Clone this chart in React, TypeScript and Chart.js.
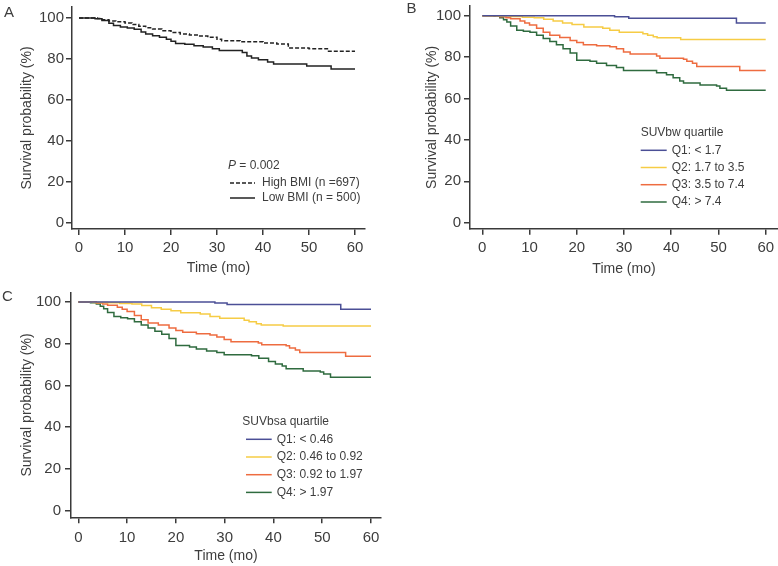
import React, { useEffect, useRef } from 'react';
import { Chart, registerables } from 'chart.js';

Chart.register(...registerables);

// ---------- data ----------
const timeTicks = [0, 10, 20, 30, 40, 50, 60];
const survTicks = [0, 20, 40, 60, 80, 100];

// Panel A: BMI
const highBmiT = [0, 4, 5, 6.5, 8, 10, 11.5, 13, 14.5, 16, 18, 20, 22, 24, 26, 28, 30, 31, 35, 40, 43, 45.5, 50, 54, 60];
const highBmiS = [100, 99.7, 99.2, 98.6, 98.2, 97.6, 96.8, 96, 95.3, 94.6, 93.8, 92.9, 92.2, 91.7, 91.2, 90.6, 89.6, 88.9, 88.4, 87.8, 87.3, 85.4, 85, 83.8, 83.8];
const lowBmiT = [0, 3.5, 5, 6.5, 7.5, 9, 10.5, 12, 13.5, 14.5, 16, 17.5, 19, 20, 21, 23, 25, 27, 29, 30.5, 35.5, 36.5, 37.5, 39, 41, 42.3, 49.5, 54.8, 60];
const lowBmiS = [100, 99.6, 98.8, 97.5, 96.3, 95.6, 95.1, 94.5, 93.2, 92.2, 91.4, 90.6, 89.6, 88.7, 87.6, 87.2, 86.5, 85.8, 85, 84.1, 83.2, 81.5, 80.5, 79.6, 78.5, 77.6, 76.6, 75.1, 75.1];

// Panel B: SUVbw quartiles
const bwQ1T = [0, 28, 31, 53.8, 60];
const bwQ1S = [100, 99.5, 98.8, 96.5, 96.5];
const bwQ2T = [0, 3, 6, 8.5, 11, 13, 15, 17, 19, 21.5, 25.5, 27, 29, 34, 35, 36.2, 37, 42, 60];
const bwQ2S = [100, 99.8, 99.6, 99.3, 99, 98.3, 97.5, 96.5, 95.8, 94.5, 94, 93, 92, 91.3, 90.5, 89.8, 89.3, 88.5, 88.5];
const bwQ3T = [0, 3.7, 5, 6, 8, 9, 10, 11.5, 12.9, 14.3, 16.4, 18.6, 20, 21.4, 24.2, 27, 28.4, 29.9, 31.3, 36.9, 37.6, 42.6, 43.3, 44.5, 45.4, 54.5, 60];
const bwQ3S = [100, 99.5, 99, 98.5, 97.5, 96.5, 95.5, 94, 92, 90.5, 89.5, 88, 87, 86, 85.5, 85, 84, 82.5, 81.5, 80.5, 79.5, 79, 78, 77, 75.5, 73.5, 73.5];
const bwQ4T = [0, 2.5, 3.7, 4.5, 5.2, 6, 7.3, 8.7, 10.1, 11.5, 12.9, 14.3, 15.7, 17.1, 18.6, 20, 22.8, 24.2, 26.3, 28.4, 29.9, 36.9, 39, 40.4, 41.8, 42.6, 46.1, 49.6, 50.3, 51.7, 60];
const bwQ4S = [100, 99.7, 99, 98, 97, 95, 93, 92.5, 92, 90.5, 89, 87.5, 86, 84, 82, 78.5, 78, 77, 76, 75, 73.5, 72.5, 71.5, 70, 68.5, 67.5, 66.5, 66, 65, 64, 64];

// Panel C: SUVbsa quartiles
const bsaQ1T = [0, 28, 30.5, 53.8, 60];
const bsaQ1S = [100, 99.5, 98.8, 96.5, 96.5];
const bsaQ2T = [0, 3, 6, 8.5, 11, 13, 15, 17, 19, 21, 25, 27, 29, 34, 35, 36.5, 37.5, 42, 60];
const bsaQ2S = [100, 99.8, 99.6, 99.3, 99, 98.3, 97.3, 96.5, 95.8, 94.8, 94.2, 93, 92.2, 91.3, 90.5, 89.6, 89, 88.5, 88.5];
const bsaQ3T = [0, 3.7, 5, 6, 8, 9, 10, 11.5, 12.9, 14.3, 16.4, 18.6, 20, 21.4, 24.2, 27, 28.4, 29.9, 31.3, 36.9, 37.6, 42.6, 43.3, 44.5, 45.4, 54.8, 60];
const bsaQ3S = [100, 99.5, 99, 98.5, 97.5, 96.5, 95.5, 93.5, 91.5, 90, 89, 87.5, 86.3, 85.5, 84.8, 84.2, 83.2, 82, 81, 80.3, 79.5, 79, 78, 77, 75.8, 74, 74];
const bsaQ4T = [0, 2.5, 3.7, 4.5, 5.2, 6, 7.3, 8.7, 10.1, 11.5, 12.9, 14.3, 15.7, 17.1, 18.6, 20, 22.8, 24.2, 26.3, 28.4, 29.9, 35.5, 37, 39, 40.4, 41.8, 42.6, 46.1, 49.6, 50.3, 51.7, 60];
const bsaQ4S = [100, 99.7, 99, 98, 96.8, 95, 93, 92.5, 92, 90.5, 89, 87.5, 86, 84.5, 82.5, 79.2, 78.5, 77.5, 76.5, 75.8, 74.7, 74.2, 73, 71.5, 70.3, 69.3, 68, 67, 66.5, 65.5, 64, 64];

const bmiLabels = ['High BMI (n =697)', 'Low BMI (n = 500)'];
const bwLabels = ['Q1: < 1.7', 'Q2: 1.7 to 3.5', 'Q3: 3.5 to 7.4', 'Q4: > 7.4'];
const bsaLabels = ['Q1: < 0.46', 'Q2: 0.46 to 0.92', 'Q3: 0.92 to 1.97', 'Q4: > 1.97'];

// ---------- styles ----------
const FONT = "'Liberation Sans', Arial, Helvetica, sans-serif";
const TEXT = '#3d3d3d';
const AXIS = '#3a3a3a';
const QCOLORS = ['#4b4f96', '#f6cc45', '#ee6c40', '#2f6b3f'];

type Series = { label: string; t: number[]; s: number[]; color: string; dash?: number[] };
type LegendCfg = {
  title?: string;
  pValue?: string;
  titleX: number;
  titleY: number;
  lineX0: number;
  lineX1: number;
  textX: number;
  ys: number[];
};
type PanelCfg = {
  letter: string;
  letterX: number;
  letterY: number;
  left: number;
  top: number;
  width: number;
  height: number;
  area: { left: number; top: number; right: number; bottom: number };
  xMin: number;
  xMax: number;
  yMin: number;
  yMax: number;
  yTitlePad: number;
  xTitlePad: number;
  xTickPad: number;
  yTickPad: number;
  series: Series[];
  legend: LegendCfg;
};

const panels: PanelCfg[] = [
  {
    letter: 'A', letterX: 9, letterY: 13,
    left: 0, top: 0, width: 385, height: 280,
    area: { left: 72, top: 7, right: 365, bottom: 229 },
    xMin: -1.52, xMax: 62.17, yMin: -2.93, yMax: 105.37,
    yTitlePad: 18.6, xTitlePad: 3.6, xTickPad: 4, yTickPad: 2,
    series: [
      { label: bmiLabels[0], t: highBmiT, s: highBmiS, color: '#222', dash: [4, 2] },
      { label: bmiLabels[1], t: lowBmiT, s: lowBmiS, color: '#222' },
    ],
    legend: { pValue: '0.002', titleX: 228, titleY: 166, lineX0: 230, lineX1: 255, textX: 262, ys: [183, 198] },
  },
  {
    letter: 'B', letterX: 21.5, letterY: 8.5,
    left: 390, top: 0, width: 388, height: 280,
    area: { left: 80, top: 6, right: 388, bottom: 228.7 },
    xMin: -2.6, xMax: 62.6, yMin: -2.9, yMax: 104.69,
    yTitlePad: 33.3, xTitlePad: 2.3, xTickPad: 4.6, yTickPad: 3,
    series: bwLabels.map((l, i) => ({ label: l, t: [bwQ1T, bwQ2T, bwQ3T, bwQ4T][i], s: [bwQ1S, bwQ2S, bwQ3S, bwQ4S][i], color: QCOLORS[i] })),
    legend: { title: 'SUVbw quartile', titleX: 250.7, titleY: 132.3, lineX0: 250.7, lineX1: 276.7, textX: 281.7, ys: [150.3, 167.5, 184.7, 202] },
  },
  {
    letter: 'C', letterX: 7.5, letterY: 16.7,
    left: 0, top: 280, width: 390, height: 286,
    area: { left: 71, top: 12.7, right: 381, bottom: 237.3 },
    xMin: -1.5, xMax: 62.05, yMin: -3.16, yMax: 104.46,
    yTitlePad: 18.3, xTitlePad: 1.6, xTickPad: 6, yTickPad: 4,
    series: bsaLabels.map((l, i) => ({ label: l, t: [bsaQ1T, bsaQ2T, bsaQ3T, bsaQ4T][i], s: [bsaQ1S, bsaQ2S, bsaQ3S, bsaQ4S][i], color: QCOLORS[i] })),
    legend: { title: 'SUVbsa quartile', titleX: 242.3, titleY: 141.3, lineX0: 246, lineX1: 271.7, textX: 276.7, ys: [159.3, 177, 194.7, 212.4] },
  },
];

function makeOverlay(cfg: PanelCfg) {
  return {
    id: 'overlay' + cfg.letter,
    afterDraw(chart: any) {
      const ctx = chart.ctx as CanvasRenderingContext2D;
      ctx.save();
      ctx.fillStyle = TEXT;
      ctx.textBaseline = 'middle';
      ctx.textAlign = 'center';
      ctx.font = `15px ${FONT}`;
      ctx.fillText(cfg.letter, cfg.letterX, cfg.letterY);

      const lg = cfg.legend;
      ctx.textAlign = 'left';
      if (lg.pValue) {
        ctx.font = `italic 12px ${FONT}`;
        ctx.fillText('P', lg.titleX, lg.titleY);
        const w = ctx.measureText('P').width;
        ctx.font = `12px ${FONT}`;
        ctx.fillText(' = ' + lg.pValue, lg.titleX + w, lg.titleY);
      }
      if (lg.title) {
        ctx.font = `12px ${FONT}`;
        ctx.fillText(lg.title, lg.titleX, lg.titleY);
      }
      ctx.font = `12px ${FONT}`;
      cfg.series.forEach((s, i) => {
        const y = lg.ys[i];
        ctx.strokeStyle = s.color;
        ctx.lineWidth = 1.5;
        ctx.setLineDash(s.dash || []);
        ctx.beginPath();
        ctx.moveTo(lg.lineX0, y);
        ctx.lineTo(lg.lineX1, y);
        ctx.stroke();
        ctx.setLineDash([]);
        ctx.fillStyle = TEXT;
        ctx.fillText(s.label, lg.textX, y);
      });
      ctx.restore();
    },
  };
}

function Panel({ cfg }: { cfg: PanelCfg }) {
  const ref = useRef<HTMLCanvasElement | null>(null);
  useEffect(() => {
    if (!ref.current) return;
    const chart = new Chart(ref.current, {
      type: 'line',
      data: {
        datasets: cfg.series.map((s) => ({
          label: s.label,
          data: s.t.map((t, i) => ({ x: t, y: s.s[i] })),
          borderColor: s.color,
          backgroundColor: s.color,
          borderWidth: 1.5,
          borderDash: s.dash || [],
          stepped: 'before' as const,
          pointRadius: 0,
          fill: false,
        })),
      },
      options: {
        animation: false,
        responsive: false,
        devicePixelRatio: 1,
        layout: { padding: { left: 0, top: cfg.area.top, right: cfg.width - cfg.area.right, bottom: 0 } },
        plugins: { legend: { display: false }, tooltip: { enabled: false } },
        scales: {
          x: {
            type: 'linear',
            min: cfg.xMin,
            max: cfg.xMax,
            afterBuildTicks: (s: any) => { s.ticks = timeTicks.map((v) => ({ value: v })); },
            afterFit: (s: any) => { s.height = cfg.height - cfg.area.bottom; s.paddingLeft = 0; s.paddingRight = 0; },
            grid: { drawOnChartArea: false, drawTicks: true, tickLength: 6, color: AXIS, lineWidth: 1.5 },
            border: { display: true, color: AXIS, width: 1.5 },
            ticks: { font: { family: FONT, size: 15 }, color: TEXT, padding: cfg.xTickPad, maxRotation: 0, autoSkip: false },
            title: { display: true, text: 'Time (mo)', font: { family: FONT, size: 14 }, color: TEXT, padding: { top: 0, bottom: cfg.xTitlePad } },
          },
          y: {
            type: 'linear',
            min: cfg.yMin,
            max: cfg.yMax,
            afterBuildTicks: (s: any) => { s.ticks = survTicks.map((v) => ({ value: v })); },
            afterFit: (s: any) => { s.width = cfg.area.left; s.paddingTop = 0; s.paddingBottom = 0; },
            grid: { drawOnChartArea: false, drawTicks: true, tickLength: 6, color: AXIS, lineWidth: 1.5 },
            border: { display: true, color: AXIS, width: 1.5 },
            ticks: { font: { family: FONT, size: 15 }, color: TEXT, padding: cfg.yTickPad, autoSkip: false },
            title: { display: true, text: 'Survival probability (%)', font: { family: FONT, size: 14 }, color: TEXT, padding: { top: cfg.yTitlePad, bottom: 0 } },
          },
        },
      } as any,
      plugins: [makeOverlay(cfg)],
    });
    return () => chart.destroy();
  }, [cfg]);
  return (
    <canvas
      ref={ref}
      width={cfg.width}
      height={cfg.height}
      style={{ position: 'absolute', left: cfg.left, top: cfg.top, width: cfg.width, height: cfg.height }}
    />
  );
}

export default function App() {
  return (
    <div style={{ position: 'fixed', left: 0, top: 0, width: 778, height: 566, background: '#fff', overflow: 'hidden' }}>
      {panels.map((p) => (
        <Panel key={p.letter} cfg={p} />
      ))}
    </div>
  );
}
